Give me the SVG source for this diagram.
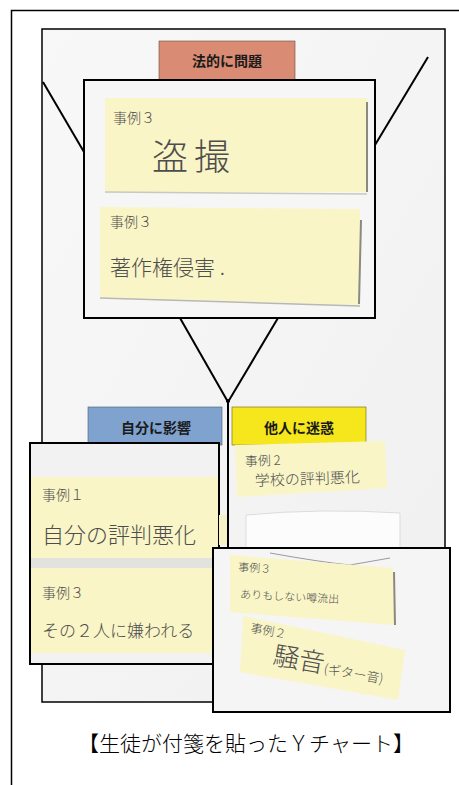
<svg xmlns="http://www.w3.org/2000/svg" width="459" height="785" viewBox="0 0 459 785">
<defs>
<style>
.frame{fill:none;stroke:#000;stroke-width:1.5}
.box{stroke:#000;stroke-width:2}
.note{fill:#f9f5c6}
.shadow{fill:none;stroke:#8a8a80;stroke-width:2}
.hw{font-family:"Noto Sans CJK JP",sans-serif;font-weight:300;fill:#4d4d4d}
.lbl{font-family:"Noto Sans CJK JP",sans-serif;font-weight:bold;font-size:14px;fill:#1a1a1a;text-anchor:middle}
.ln{stroke:#000;stroke-width:2;fill:none}
.cap{font-family:"Liberation Serif","Noto Sans CJK JP",serif;font-weight:300;font-size:21px;fill:#000;text-anchor:middle}
</style>
<linearGradient id="paper" x1="0" y1="0" x2="1" y2="1">
<stop offset="0" stop-color="#f8f8f8"/><stop offset="1" stop-color="#f0f0f0"/>
</linearGradient>
</defs>
<rect width="459" height="785" fill="#fff"/>
<path d="M11.5 785 V10.5 H459" class="frame"/>
<rect id="photo" x="42" y="29" width="403" height="673" fill="url(#paper)" stroke="#000" stroke-width="1.5"/>

<g id="connectors">
<line class="ln" x1="43" y1="82" x2="84" y2="152"/>
<line class="ln" x1="428" y1="57" x2="375" y2="145"/>
<line class="ln" x1="180" y1="318" x2="228" y2="402"/>
<line class="ln" x1="278" y1="318" x2="228" y2="402"/>
<line class="ln" x1="228" y1="402" x2="228" y2="548"/>
<circle cx="228" cy="401" r="2" fill="#000"/>
</g>

<g id="label-legal">
<rect x="159" y="41" width="136" height="40" fill="#d98b73" stroke="#6a4a40" stroke-width="0.6"/>
<text class="lbl" x="227" y="66">法的に問題</text>
</g>
<g id="label-self">
<rect x="88" y="407" width="134" height="38" fill="#7fa2cf" stroke="#4a5a70" stroke-width="0.6"/>
<text class="lbl" x="156" y="433">自分に影響</text>
</g>
<g id="label-others">
<rect x="232" y="407" width="134" height="38" fill="#f6e61c" stroke="#6a6420" stroke-width="0.6"/>
<text class="lbl" x="299" y="433">他人に迷惑</text>
</g>

<g id="legal-box">
<rect class="box" x="84" y="80" width="291" height="238" fill="#f6f6f6"/>
<g id="note-tousatsu">
<rect class="note" x="105" y="98" width="262" height="94"/>
<line class="shadow" x1="367" y1="102" x2="367" y2="192"/>
<line x1="105" y1="192" x2="367" y2="194" stroke="#c8c8c0" stroke-width="1.5"/>
<text class="hw" x="113" y="123" font-size="14">事例３</text>
<text class="hw" x="152" y="170" font-size="36" letter-spacing="6">盗撮</text>
</g>
<g id="note-chosakuken">
<path class="note" d="M100 207 L360 209 L360 305 L100 297 Z"/>
<line class="shadow" x1="361" y1="220" x2="359" y2="304"/>
<line x1="100" y1="298" x2="360" y2="306" stroke="#b8b8b0" stroke-width="1.5"/>
<text class="hw" x="110" y="227" font-size="14">事例３</text>
<text class="hw" x="110" y="275" font-size="21">著作権侵害 .</text>
</g>
</g>

<g id="self-box">
<rect class="box" x="30" y="443" width="189" height="221" fill="#f2f2f2"/>
<rect x="219" y="515" width="8" height="30" fill="#f6f2c6"/>
<g id="note-hyouban-jibun">
<rect class="note" x="31" y="477" width="187" height="81"/>
<text class="hw" x="42" y="500" font-size="14">事例１</text>
<text class="hw" x="42" y="543" font-size="22">自分の評判悪化</text>
</g>
<rect x="31" y="558" width="187" height="10" fill="#e2e2de"/>
<g id="note-kirawareru">
<rect class="note" x="31" y="568" width="187" height="85"/>
<text class="hw" x="42" y="598" font-size="14">事例３</text>
<text class="hw" x="42" y="637" font-size="17">その２人に嫌われる</text>
</g>
</g>

<g id="note-hyouban-gakkou">
<path class="note" d="M235 445 L385 441 L387 488 L237 497 Z"/>
<text class="hw" x="245" y="466" font-size="13" transform="rotate(-2 245 466)">事例 2</text>
<text class="hw" x="255" y="486" font-size="15" transform="rotate(-2 255 486)">学校の評判悪化</text>
</g>
<g id="curled-paper">
<path d="M246 515 Q320 508 400 513 L400 548 L246 548 Z" fill="#fcfcfc" stroke="#dcdcdc" stroke-width="1"/>
</g>

<g id="others-box">
<rect class="box" x="213" y="548" width="237" height="164" fill="#f5f5f5"/>
<path d="M270 553 Q320 562 350 565 L390 558" fill="none" stroke="#9a9a9a" stroke-width="1"/>
<g id="note-uwasa">
<path class="note" d="M230 555 L393 568 L395 625 L230 612 Z"/>
<line class="shadow" x1="394" y1="572" x2="395" y2="625"/>
<text class="hw" x="238" y="571" font-size="11" transform="rotate(3 238 571)">事例３</text>
<text class="hw" x="240" y="598" font-size="11" transform="rotate(3 240 598)">ありもしない噂流出</text>
</g>
<g id="note-souon">
<path class="note" d="M243 616 L405 650 L398 700 L240 672 Z"/>
<text class="hw" x="250" y="632" font-size="12" transform="rotate(10 250 632)">事例２</text>
<text class="hw" x="272" y="664" transform="rotate(10 272 664)"><tspan font-size="26">騒音</tspan><tspan font-size="13">(ギター音)</tspan></text>
</g>
</g>

<text class="cap" x="246" y="751">【生徒が付箋を貼ったＹチャート】</text>
</svg>
